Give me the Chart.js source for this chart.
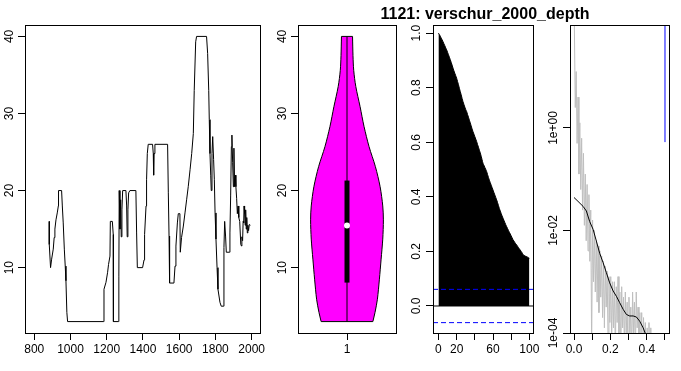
<!DOCTYPE html>
<html>
<head>
<meta charset="utf-8">
<script src="https://cdn.jsdelivr.net/npm/chart.js@4.4.1/dist/chart.umd.min.js"></script>
<style>
  body { margin: 0; background: #fff; }
  #wrap { position: relative; width: 681px; height: 371px; overflow: hidden; }
  #wrap canvas { position: absolute; left: 0; top: 0; }
  #title {
    position: absolute; left: 285px; width: 400px; top: 5px; text-align: center;
    font: bold 16px "Liberation Sans", Arial, sans-serif; color: #000;
  }
</style>
</head>
<body>
<div id="wrap">
  <canvas id="series" width="681" height="371"></canvas>
  <canvas id="violin" width="681" height="371"></canvas>
  <canvas id="acf" width="681" height="371"></canvas>
  <canvas id="spec" width="681" height="371"></canvas>
  <div id="title">1121: verschur_2000_depth</div>
</div>
<script>
// ---- panel 1: depth series ----
const years = [883, 883, 890, 896, 905, 910, 914, 920, 927, 933, 934, 951, 955, 960, 966, 971, 975, 980, 984,
  1181, 1185, 1196, 1205, 1210, 1218, 1220, 1231, 1236, 1237, 1264, 1267, 1269, 1273, 1277, 1280, 1284, 1288,
  1306, 1310, 1313, 1317, 1321, 1328, 1361, 1365, 1369, 1398, 1406, 1409, 1417, 1420, 1424, 1429, 1453, 1457,
  1459, 1461, 1466, 1536, 1540, 1544, 1547, 1571, 1577, 1582, 1590, 1595, 1604, 1606, 1613, 1623, 1632, 1641,
  1650, 1660, 1669, 1678, 1683, 1691, 1696, 1751, 1757, 1763, 1766, 1770, 1774, 1777, 1781, 1785, 1790, 1794,
  1798, 1803, 1809, 1814, 1825, 1832, 1843, 1847, 1851, 1856, 1860, 1877, 1880, 1884, 1888, 1891, 1895, 1899,
  1902, 1906, 1910, 1913, 1917, 1921, 1925, 1929, 1934, 1940, 1944, 1946, 1950, 1953, 1956, 1958, 1961, 1964,
  1967, 1970, 1973, 1976, 1979, 1983, 1987, 1993];
const depth = [16, 13, 10, 11.1, 12.4, 13.9, 15, 16.2, 17.1, 18, 20, 20, 18, 15.8, 12.4, 10.2, 8.3, 4.2, 3,
  3, 7.2, 8.1, 9.4, 10.4, 11.5, 16, 16, 14.3, 3, 3, 8.9, 20, 15, 18.8, 14, 17.5, 20,
  20, 18, 14, 17.5, 19.7, 20, 20, 14.5, 10, 10, 11, 14.3, 18, 21.4, 24.8, 26, 26, 24.8,
  22, 24.8, 26, 26, 19.7, 14.1, 8, 8, 10.2, 12.8, 15.8, 17, 17, 12, 13.9, 15.4, 17.1, 18.8,
  20.5, 22.7, 24.8, 27.4, 33, 39.3, 40, 40, 37.8, 33, 29.2, 24.8, 22, 20, 24.8, 27, 24, 21.4,
  17.1, 13.7, 10, 7.2, 5.5, 5, 5, 12.6, 16, 14.1, 12, 12, 14.5, 19.3, 25.7, 27.2, 23.6, 20.5,
  25.5, 20.5, 22, 20.5, 19, 17, 18, 16.5, 16, 13, 12.8, 14, 13.5, 16, 15.8, 18, 17, 15.5,
  17.5, 15, 16.5, 14.5, 15.5, 14.8, 15.6, 15.5];
const yearTicks = [800, 1000, 1200, 1400, 1600, 1800, 2000];
const depthTicks = [10, 20, 30, 40];

// ---- panel 2: violin + box ----
const violinLevels = [3, 4.2, 5.9, 8.5, 11.1, 13.7, 16.2, 18, 20.5, 23.1, 25.7, 28.3, 30.9, 33.5, 35.6, 37.5, 40];
const violinHalfWidth = [0.285, 0.309, 0.335, 0.357, 0.376, 0.394, 0.401, 0.394, 0.365, 0.313, 0.243, 0.188,
  0.144, 0.097, 0.074, 0.066, 0.061];
const boxStats = { min: 3, q1: 8.06, median: 15.47, q3: 21.3, max: 40 };

// ---- panel 3: autocorrelation ----
const acfValues = [1.000, 0.995, 0.989, 0.982, 0.976, 0.969, 0.961, 0.954, 0.946, 0.939,
  0.930, 0.921, 0.912, 0.903, 0.893, 0.883, 0.872, 0.862, 0.853, 0.844,
  0.835, 0.823, 0.811, 0.798, 0.786, 0.774, 0.761, 0.749, 0.739, 0.729,
  0.720, 0.713, 0.702, 0.692, 0.681, 0.671, 0.660, 0.649, 0.639, 0.630,
  0.621, 0.612, 0.603, 0.592, 0.582, 0.571, 0.561, 0.549, 0.536, 0.523,
  0.516, 0.508, 0.501, 0.493, 0.482, 0.471, 0.461, 0.452, 0.443, 0.434,
  0.425, 0.416, 0.407, 0.398, 0.389, 0.379, 0.368, 0.357, 0.348, 0.339,
  0.330, 0.322, 0.314, 0.306, 0.298, 0.291, 0.284, 0.277, 0.270, 0.264,
  0.257, 0.250, 0.243, 0.238, 0.233, 0.228, 0.224, 0.219, 0.214, 0.209,
  0.205, 0.200, 0.195, 0.189, 0.186, 0.184, 0.182, 0.181, 0.179, 0.177, 0.175];
const acfLimit = 0.061;
const lagTicks = [0, 20, 40, 60, 80, 100];
const lagLabels = ['0', '20', '', '60', '', '100'];
const acfTicks = [0, 0.2, 0.4, 0.6, 0.8, 1.0];

// ---- panel 4: spectrum ----
const specFreq = [0.002, 0.007, 0.012, 0.017, 0.022, 0.027, 0.032, 0.037, 0.042, 0.047,
  0.052, 0.057, 0.062, 0.067, 0.072, 0.077, 0.082, 0.087, 0.092, 0.097,
  0.102, 0.107, 0.112, 0.117, 0.122, 0.127, 0.132, 0.137, 0.142, 0.147,
  0.152, 0.157, 0.162, 0.167, 0.172, 0.177, 0.182, 0.187, 0.192, 0.197,
  0.202, 0.207, 0.212, 0.217, 0.222, 0.227, 0.232, 0.237, 0.242, 0.247,
  0.252, 0.257, 0.262, 0.267, 0.272, 0.277, 0.282, 0.287, 0.292, 0.297,
  0.302, 0.307, 0.312, 0.317, 0.322, 0.327, 0.332, 0.337, 0.342, 0.347,
  0.352, 0.357, 0.362, 0.367, 0.372, 0.377, 0.382, 0.387, 0.392, 0.397,
  0.402, 0.407, 0.412, 0.417, 0.422, 0.427, 0.432, 0.437, 0.442, 0.447,
  0.452, 0.457, 0.47, 0.49, 0.5];
const specPower = [1e2, 2.5, 12.6, 0.5, 4, 0.126, 1.26, 0.063, 0.63, 0.025,
  0.32, 0.0126, 0.126, 6.3e-3, 0.079, 4e-3, 0.05, 2.5e-3, 0.025, 5e-5,
  0.016, 1e-3, 0.01, 6.3e-4, 6.3e-3, 4e-4, 5e-3, 2.5e-4, 4e-3, 5e-4,
  3.2e-3, 2e-4, 2.5e-3, 1.26e-4, 2e-3, 3.2e-4, 1.6e-3, 8e-5, 1.26e-3, 1.6e-4,
  1.26e-3, 6.3e-5, 1e-3, 1.26e-4, 1e-3, 4e-5, 8e-4, 1.6e-4, 1.26e-3, 8e-5,
  6.3e-4, 3.2e-5, 8e-4, 1.26e-4, 5e-4, 5e-5, 6.3e-4, 1e-4, 4e-4, 2.5e-5,
  5e-4, 8e-5, 3.2e-4, 4e-5, 6.3e-4, 1e-4, 4e-4, 3.2e-5, 6.3e-4, 1.26e-4,
  3.2e-4, 5e-5, 2.5e-4, 4e-5, 2.5e-4, 2.5e-5, 2e-4, 5e-5, 1.6e-4, 2e-5,
  1.26e-4, 3.2e-5, 1.6e-4, 1.6e-5, 1.26e-4, 2.5e-5, 1e-4, 1e-5, 5e-5, 6.3e-6,
  1.6e-5, 3.2e-6, 5e-6, 2.5e-6, 4e-6];
const smoothFreq = [0, 0.022, 0.05, 0.068, 0.086, 0.105, 0.123, 0.141, 0.16, 0.178, 0.196,
  0.215, 0.233, 0.251, 0.27, 0.288, 0.306, 0.325, 0.343, 0.361, 0.38, 0.396];
const smoothPower = [4.4e-2, 3.7e-2, 2.95e-2, 2.4e-2, 1.5e-2, 1.05e-2, 6.2e-3, 3.6e-3, 2.35e-3, 1.5e-3, 9.5e-4,
  6.6e-4, 5.2e-4, 3.9e-4, 2.9e-4, 2.3e-4, 2.15e-4, 2.15e-4, 2.05e-4, 1.7e-4, 1.26e-4, 9e-5];
const ciFreq = 0.5;
const ciLow = 0.53;
const ciHigh = 200;
const freqTicks = [0, 0.1, 0.2, 0.3, 0.4, 0.5];
const freqLabels = ['0.0', '', '0.2', '', '0.4', ''];
const powerTicks = [1e-4, 1e-2, 1];
const powerLabels = ['1e-04', '1e-02', '1e+00'];

// ---- shared bits ----
const FONT = { family: '"Liberation Sans", Arial, Helvetica, sans-serif', size: 12 };

const boxPlugin = {
  id: 'box',
  afterDraw(chart) {
    const a = chart.chartArea;
    const ctx = chart.ctx;
    ctx.save();
    ctx.strokeStyle = '#000';
    ctx.lineWidth = 1;
    ctx.strokeRect(Math.round(a.left) + 0.5, Math.round(a.top) + 0.5,
      Math.round(a.right - a.left), Math.round(a.bottom - a.top));
    ctx.restore();
  },
};

function xAxis(type, min, max, tickVals, tickLabels) {
  return {
    type, min, max,
    afterBuildTicks: (s) => { s.ticks = tickVals.map((v) => ({ value: v })); },
    afterFit: (s) => { s.height = 38; },
    ticks: { autoSkip: false, maxRotation: 0, padding: 2, color: '#000', font: FONT,
      callback: (v, i) => tickLabels[i] },
    grid: { drawOnChartArea: false, drawTicks: true, tickLength: 7, color: '#000', lineWidth: 1 },
    border: { display: false },
  };
}

function yAxis(type, min, max, tickVals, tickLabels, width, pad) {
  return {
    type, min, max,
    afterBuildTicks: (s) => { s.ticks = tickVals.map((v) => ({ value: v })); },
    afterFit: (s) => { s.width = width; },
    ticks: { autoSkip: false, minRotation: 90, maxRotation: 90, crossAlign: 'center', padding: pad,
      color: '#000', font: FONT, callback: (v, i) => tickLabels[i] },
    grid: { drawOnChartArea: false, drawTicks: true, tickLength: 7, color: '#000', lineWidth: 1 },
    border: { display: false },
  };
}

function baseOptions(padding, scales, extra) {
  return Object.assign({
    responsive: false,
    animation: false,
    devicePixelRatio: 1,
    layout: { padding },
    plugins: {
      legend: { display: false },
      tooltip: { enabled: false },
      filler: { drawTime: 'beforeDatasetsDraw' },
    },
    elements: { point: { radius: 0 }, line: { tension: 0 } },
    scales,
  }, extra || {});
}

function pairs(xs, ys) {
  return xs.map((x, i) => ({ x, y: ys[i] }));
}

// panel 1
new Chart(document.getElementById('series'), {
  type: 'scatter',
  data: {
    datasets: [{
      data: pairs(years, depth),
      showLine: true, borderColor: '#000', borderWidth: 1, pointRadius: 0,
    }],
  },
  options: baseOptions({ left: 0, right: 421, top: 25, bottom: 0 }, {
    x: xAxis('linear', 749, 2046, yearTicks, yearTicks.map(String)),
    y: yAxis('linear', 1.52, 41.48, depthTicks, depthTicks.map(String), 25, 2),
  }),
  plugins: [boxPlugin],
});

// panel 2
const leftEdge = violinLevels.map((lv, i) => ({ x: 1 - violinHalfWidth[i], y: lv }));
const rightEdge = violinLevels.map((lv, i) => ({ x: 1 + violinHalfWidth[i], y: lv }));
const lastV = violinLevels.length - 1;
new Chart(document.getElementById('violin'), {
  type: 'line',
  data: {
    datasets: [
      { data: [{ x: 1, y: boxStats.median }], showLine: false, pointRadius: 3,
        pointBackgroundColor: '#fff', pointBorderWidth: 0 },
      { data: [{ x: 1, y: boxStats.q1 }, { x: 1, y: boxStats.q3 }], borderColor: '#000',
        borderWidth: 5, borderCapStyle: 'butt' },
      { data: [{ x: 1, y: boxStats.min }, { x: 1, y: boxStats.max }], borderColor: '#000', borderWidth: 1 },
      { data: leftEdge, borderColor: '#000', borderWidth: 1, backgroundColor: '#ff00ff',
        fill: '+1', tension: 0.3 },
      { data: rightEdge, borderColor: '#000', borderWidth: 1, tension: 0.3 },
      { data: [leftEdge[0], rightEdge[0]], borderColor: '#000', borderWidth: 1 },
      { data: [leftEdge[lastV], rightEdge[lastV]], borderColor: '#000', borderWidth: 1 },
    ],
  },
  options: baseOptions({ left: 268, right: 285, top: 25, bottom: 0 }, {
    x: xAxis('linear', 0.46, 1.54, [1], ['1']),
    y: yAxis('linear', 1.52, 41.48, depthTicks, depthTicks.map(String), 30, 2),
  }, { indexAxis: 'y' }),
  plugins: [boxPlugin],
});

// panel 3
new Chart(document.getElementById('acf'), {
  type: 'scatter',
  data: {
    datasets: [
      { data: [{ x: -6, y: acfLimit }, { x: 104, y: acfLimit }], showLine: true,
        borderColor: '#0000ff', borderWidth: 1, borderDash: [5, 3] },
      { data: [{ x: -6, y: -acfLimit }, { x: 104, y: -acfLimit }], showLine: true,
        borderColor: '#0000ff', borderWidth: 1, borderDash: [5, 3] },
      { data: [{ x: -6, y: 0 }, { x: 104, y: 0 }], showLine: true, borderColor: '#000', borderWidth: 1 },
      { data: acfValues.map((v, lag) => ({ x: lag, y: v })), showLine: true, borderColor: '#000',
        borderWidth: 1, backgroundColor: '#000', fill: 'origin', cubicInterpolationMode: 'monotone' },
    ],
  },
  options: baseOptions({ left: 404, right: 148, top: 25, bottom: 0 }, {
    x: xAxis('linear', -6, 104, lagTicks, lagLabels),
    y: yAxis('linear', -0.099, 1.03, acfTicks, acfTicks.map((v) => v.toFixed(1)), 29, 1),
  }),
  plugins: [boxPlugin],
});

// panel 4
new Chart(document.getElementById('spec'), {
  type: 'scatter',
  data: {
    datasets: [
      { data: [{ x: ciFreq, y: ciLow }, { x: ciFreq, y: ciHigh }], showLine: true,
        borderColor: '#0000ff', borderWidth: 1 },
      { data: pairs(smoothFreq, smoothPower), showLine: true, borderColor: '#000', borderWidth: 1 },
      { data: pairs(specFreq, specPower), showLine: true, borderColor: '#bebebe', borderWidth: 1 },
    ],
  },
  options: baseOptions({ left: 538, right: 12, top: 25, bottom: 0 }, {
    x: xAxis('linear', -0.022, 0.522, freqTicks, freqLabels),
    y: yAxis('logarithmic', 1e-4, 102, powerTicks, powerLabels, 32, -8),
  }),
  plugins: [boxPlugin],
});
</script>
</body>
</html>
